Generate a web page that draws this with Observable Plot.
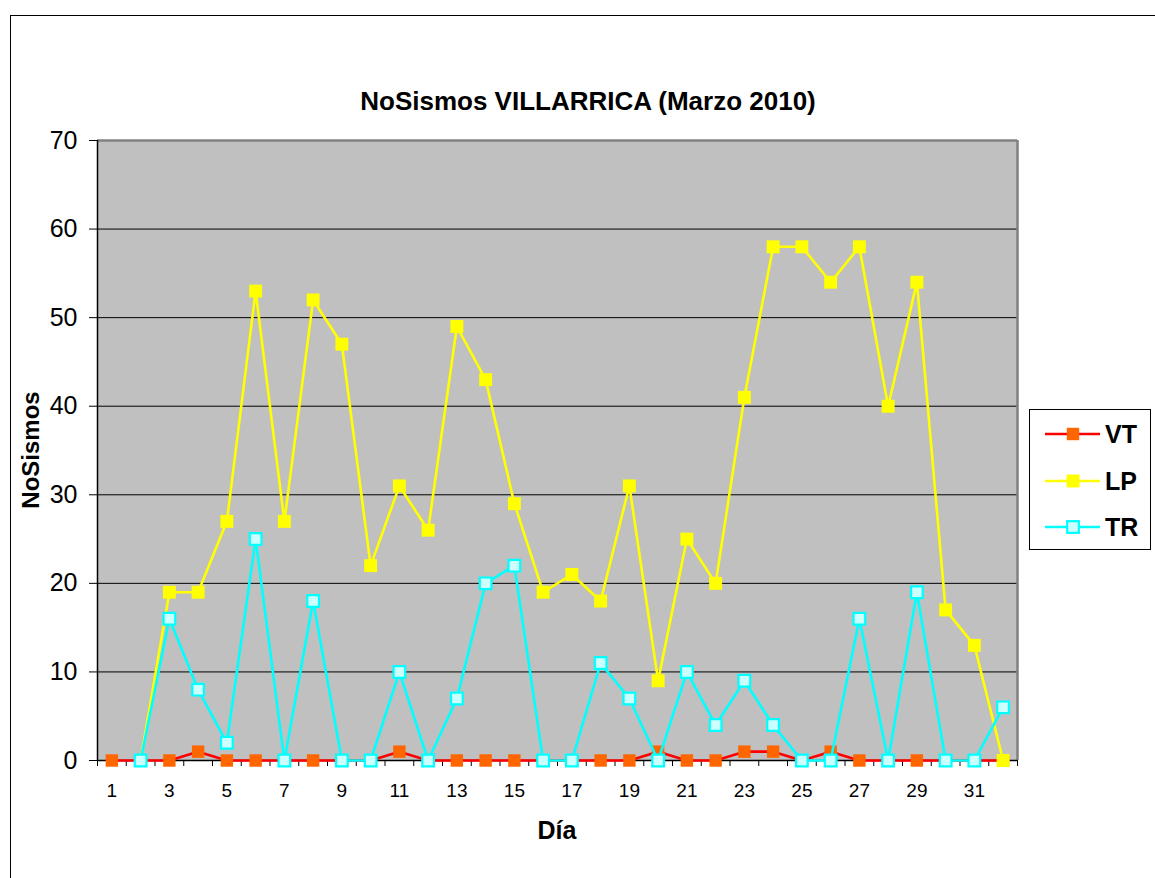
<!DOCTYPE html>
<html>
<head>
<meta charset="utf-8">
<script src="https://cdn.jsdelivr.net/npm/d3@7"></script>
<script src="https://cdn.jsdelivr.net/npm/@observablehq/plot@0.6"></script>
<style>
html, body { margin: 0; padding: 0; background: #fff; overflow: hidden; }
#wrap { position: relative; width: 1155px; height: 878px; overflow: hidden; font-family: "Liberation Sans", Arial, sans-serif; color: #000; }
#border { position: absolute; left: 10px; top: 15px; width: 3000px; height: 3000px; border: 1px solid #000; box-sizing: border-box; }
#chart { position: absolute; left: 0; top: 0; }
#title { position: absolute; left: 0; width: 1176px; top: 88px; text-align: center; font-weight: bold; font-size: 26px; line-height: 26px; white-space: nowrap; }
#xlabel { position: absolute; left: 457px; width: 200px; top: 818px; text-align: center; font-weight: bold; font-size: 25px; line-height: 25px; }
#ylabel { position: absolute; left: 31px; top: 450px; transform: translate(-50%, -50%) rotate(-90deg); font-weight: bold; font-size: 24px; line-height: 24px; white-space: nowrap; }
#legend { position: absolute; left: 1029px; top: 409px; width: 122px; height: 141px; border: 1px solid #000; box-sizing: border-box; background: #fff; }
.item { position: absolute; left: 0; height: 30px; width: 120px; }
.item svg { position: absolute; left: 15px; top: 0; }
.item span { position: absolute; left: 75px; top: 3px; font-weight: bold; font-size: 25px; line-height: 25px; }
</style>
</head>
<body>
<div id="wrap">
  <div id="border"></div>
  <div id="chart"></div>
  <div id="title"></div>
  <div id="xlabel"></div>
  <div id="ylabel"></div>
  <div id="legend"></div>
</div>
<script>
// ---- Data ----
const days = [1,2,3,4,5,6,7,8,9,10,11,12,13,14,15,16,17,18,19,20,21,22,23,24,25,26,27,28,29,30,31,32];
const vtValues = [0,0,0,1,0,0,0,0,0,0,1,0,0,0,0,0,0,0,0,1,0,0,1,1,0,1,0,0,0,0,0,0];
const lpValues = [null,0,19,19,27,53,27,52,47,22,31,26,49,43,29,19,21,18,31,9,25,20,41,58,58,54,58,40,54,17,13,0];
const trValues = [null,0,16,8,2,25,0,18,0,0,10,0,7,20,22,0,0,11,7,0,10,4,9,4,0,0,16,0,19,0,0,6];
const seriesNames = ["VT", "LP", "TR"];
const xTickLabels = [1,3,5,7,9,11,13,15,17,19,21,23,25,27,29,31];
const yTicks = [0,10,20,30,40,50,60,70];
const titleText = "NoSismos VILLARRICA (Marzo 2010)";
const xTitle = "Día";
const yTitle = "NoSismos";

// ---- Styles ----
const styles = {
  VT: { line: "#ff0000", fill: "#ff6600", stroke: "none", strokeWidth: 0, r: 7.0 },
  LP: { line: "#ffff00", fill: "#ffff00", stroke: "none", strokeWidth: 0, r: 7.3 },
  TR: { line: "#00ffff", fill: "#ccffff", stroke: "#00ffff", strokeWidth: 2.2, r: 6.6 }
};
const valuesByName = { VT: vtValues, LP: lpValues, TR: trValues };

const rowsFor = name => days
  .map((d, i) => ({ day: d, value: valuesByName[name][i], series: name }))
  .filter(r => r.value != null);

const xMin = days[0] - 0.5;
const xMax = days[days.length - 1] + 0.5;
const boundaries = days.map(d => d - 0.5).concat([xMax]);
const yMin = yTicks[0], yMax = yTicks[yTicks.length - 1];

const seriesMarks = seriesNames.flatMap(name => {
  const s = styles[name];
  const rows = rowsFor(name);
  return [
    Plot.line(rows, { x: "day", y: "value", stroke: s.line, strokeWidth: 2.6 }),
    Plot.dot(rows, { x: "day", y: "value", symbol: "square", r: s.r, fill: s.fill, stroke: s.stroke, strokeWidth: s.strokeWidth })
  ];
});

const chart = Plot.plot({
  width: 1155,
  height: 878,
  marginLeft: 97,
  marginRight: 138,
  marginTop: 140,
  marginBottom: 118,
  x: { type: "linear", domain: [xMin, xMax] },
  y: { type: "linear", domain: [yMin, yMax] },
  style: { fontFamily: "'Liberation Sans', Arial, sans-serif", color: "#000", background: "transparent", overflow: "visible" },
  marks: [
    Plot.frame({ fill: "#c0c0c0", stroke: "none" }),
    Plot.ruleY(yTicks.filter(t => t > yMin && t < yMax), { stroke: "#000", strokeWidth: 1 }),
    Plot.ruleY([yMax], { stroke: "#808080", strokeWidth: 2.5 }),
    Plot.ruleX([xMax], { stroke: "#808080", strokeWidth: 2.5 }),
    Plot.ruleX([xMin], { stroke: "#000", strokeWidth: 1.5 }),
    Plot.ruleY([yMin], { stroke: "#000", strokeWidth: 1.5 }),
    Plot.axisY(yTicks, { tickSize: 8, tickPadding: 12, fontSize: 25, label: null, stroke: "#000" }),
    Plot.axisX(xTickLabels, { tickSize: 0, tickPadding: 23, fontSize: 19, label: null }),
    Plot.axisX(boundaries, { tickSize: 6, tickFormat: () => "", label: null, stroke: "#000" }),
    ...seriesMarks
  ]
});
document.getElementById("chart").appendChild(chart);

document.getElementById("title").textContent = titleText;
document.getElementById("xlabel").textContent = xTitle;
document.getElementById("ylabel").textContent = yTitle;

// ---- Legend ----
const legend = document.getElementById("legend");
seriesNames.forEach((name, i) => {
  const s = styles[name];
  const item = document.createElement("div");
  item.className = "item";
  item.style.top = (9 + i * 46.5) + "px";
  const side = s.r * Math.sqrt(Math.PI);
  const ns = "http://www.w3.org/2000/svg";
  const svg = document.createElementNS(ns, "svg");
  svg.setAttribute("width", 60); svg.setAttribute("height", 30);
  const ln = document.createElementNS(ns, "line");
  ln.setAttribute("x1", 0); ln.setAttribute("x2", 55); ln.setAttribute("y1", 15); ln.setAttribute("y2", 15);
  ln.setAttribute("stroke", s.line); ln.setAttribute("stroke-width", 2.6);
  svg.appendChild(ln);
  const rc = document.createElementNS(ns, "rect");
  rc.setAttribute("x", 28 - side / 2); rc.setAttribute("y", 15 - side / 2);
  rc.setAttribute("width", side); rc.setAttribute("height", side);
  rc.setAttribute("fill", s.fill);
  if (s.stroke !== "none") { rc.setAttribute("stroke", s.stroke); rc.setAttribute("stroke-width", s.strokeWidth); }
  svg.appendChild(rc);
  item.appendChild(svg);
  const sp = document.createElement("span");
  sp.textContent = name;
  item.appendChild(sp);
  legend.appendChild(item);
});
</script>
</body>
</html>
